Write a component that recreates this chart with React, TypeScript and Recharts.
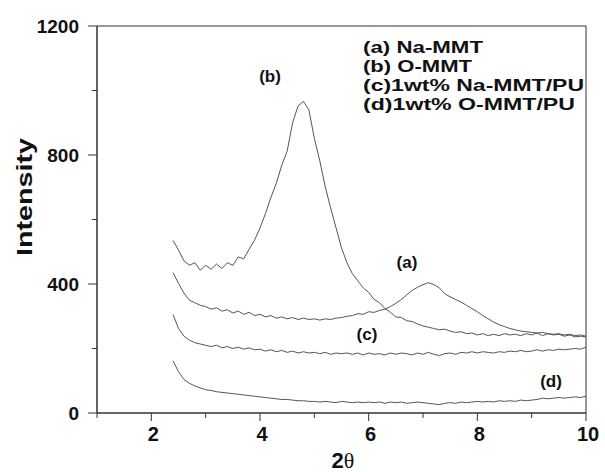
import React from "react";
import { LineChart, Line, XAxis, YAxis, ReferenceArea, Customized } from "recharts";

const twoTheta = [
  2.4, 2.5, 2.6, 2.7, 2.8, 2.9, 3.0, 3.1, 3.2, 3.3, 3.4, 3.5, 3.6, 3.7, 3.8, 3.9,
  4.0, 4.1, 4.2, 4.3, 4.4, 4.5, 4.6, 4.7, 4.8, 4.9, 5.0, 5.1, 5.2, 5.3, 5.4, 5.5,
  5.6, 5.7, 5.8, 5.9, 6.0, 6.1, 6.2, 6.3, 6.4, 6.5, 6.6, 6.7, 6.8, 6.9, 7.0, 7.1,
  7.2, 7.3, 7.4, 7.5, 7.6, 7.7, 7.8, 7.9, 8.0, 8.1, 8.2, 8.3, 8.4, 8.5, 8.6, 8.7,
  8.8, 8.9, 9.0, 9.1, 9.2, 9.3, 9.4, 9.5, 9.6, 9.7, 9.8, 9.9, 10.0,
];

const naMMT = [
  435, 402, 372, 350, 342, 334, 330, 322, 326, 316, 320, 310, 316, 306, 312, 302,
  306, 298, 302, 294, 298, 292, 296, 290, 294, 290, 292, 288, 292, 290, 294, 296,
  300, 302, 308, 306, 314, 312, 318, 322, 330, 340, 352, 366, 380, 390, 398, 404,
  398, 388, 370, 360, 352, 344, 334, 324, 314, 302, 292, 282, 274, 268, 262, 258,
  254, 252, 250, 248, 250, 246, 244, 246, 242, 244, 240, 242, 238,
];

const oMMT = [
  535, 505, 472, 458, 466, 443, 458, 446, 462, 448, 466, 458, 484, 478, 508, 536,
  574, 618, 668, 712, 768, 812, 900, 952, 966, 940, 852, 782, 702, 636, 574, 512,
  466, 432, 410, 388, 374, 352, 342, 324, 312, 298, 296, 286, 284, 276, 270, 266,
  262, 258, 260, 254, 250, 252, 246, 248, 242, 246, 240, 244, 240, 246, 242, 244,
  240, 246, 242, 248, 240, 246, 242, 244, 238, 242, 236, 238, 236,
];

const naMMTPU = [
  305, 262, 238, 226, 218, 214, 210, 206, 210, 202, 206, 200, 204, 198, 202, 196,
  198, 192, 196, 190, 194, 188, 192, 186, 190, 186, 188, 184, 188, 182, 186, 184,
  186, 182, 186, 180, 186, 182, 184, 180, 186, 182, 186, 184, 180, 186, 182, 188,
  182, 178, 184, 186, 182, 188, 186, 190, 186, 190, 188, 186, 190, 188, 192, 190,
  194, 190, 192, 196, 192, 196, 194, 198, 196, 198, 200, 198, 204,
];

const oMMTPU = [
  162, 128, 104, 92, 84, 78, 72, 70, 66, 64, 62, 60, 58, 56, 54, 52,
  50, 48, 46, 44, 42, 42, 40, 38, 38, 36, 36, 34, 36, 34, 32, 36,
  34, 32, 34, 32, 34, 32, 34, 30, 34, 32, 34, 30, 32, 34, 32, 30,
  28, 26, 30, 32, 30, 34, 32, 34, 36, 34, 36, 34, 38, 36, 38, 36,
  40, 38, 40, 42, 46, 44, 46, 48, 46, 48, 50, 48, 52,
];

const xTicks = [1, 2, 3, 4, 5, 6, 7, 8, 9, 10];
const yTicks = [0, 200, 400, 600, 800, 1000, 1200];

const legendLines = [
  "(a) Na-MMT",
  "(b) O-MMT",
  "(c)1wt% Na-MMT/PU",
  "(d)1wt% O-MMT/PU",
];

const data = twoTheta.map((x, i) => ({
  x,
  a: naMMT[i],
  b: oMMT[i],
  c: naMMTPU[i],
  d: oMMTPU[i],
}));

const FONT = "'Liberation Sans', Arial, Helvetica, sans-serif";
const AXIS = "#333";
const LINE = "#555";
const LEGEND_WIDTHS = [120, 109, 221, 212];

const XTick = (props: any) => {
  const { x, y, payload } = props;
  const major = payload.value % 2 === 0;
  return (
    <g>
      <line x1={x} y1={y} x2={x} y2={y + (major ? 8 : 5)} stroke={AXIS} strokeWidth={1} />
      {major && (
        <text x={x + 2} y={y + 28} textAnchor="middle" fontFamily={FONT} fontWeight="bold" fontSize={20} fill="#111">
          {payload.value}
        </text>
      )}
    </g>
  );
};

const YTick = (props: any) => {
  const { x, y, payload } = props;
  const major = payload.value % 400 === 0;
  return (
    <g>
      <line x1={x - (major ? 9 : 5)} y1={y} x2={x} y2={y} stroke={AXIS} strokeWidth={1} />
      {major && (
        <text x={x - 18} y={y + 7} textAnchor="end" fontFamily={FONT} fontWeight="bold" fontSize={19} fill="#111">
          {payload.value}
        </text>
      )}
    </g>
  );
};

const Overlay = () => (
  <g fontFamily={FONT} fill="#111">
    <text
      transform="translate(32,197) rotate(-90)"
      textAnchor="middle"
      fontWeight="bold"
      fontSize={22}
      textLength={118}
      lengthAdjust="spacingAndGlyphs"
    >
      Intensity
    </text>
    <text x={343} y={468} textAnchor="middle" fontSize={22}>
      <tspan fontWeight="bold">2</tspan>
      <tspan fontFamily="'Liberation Serif', serif">θ</tspan>
    </text>
    {legendLines.map((t, i) => (
      <text
        key={t}
        x={363}
        y={53 + i * 19}
        fontWeight="bold"
        fontSize={16.5}
        textLength={LEGEND_WIDTHS[i]}
        lengthAdjust="spacingAndGlyphs"
      >
        {t}
      </text>
    ))}
    <text x={270} y={82} textAnchor="middle" fontWeight="bold" fontSize={17}>(b)</text>
    <text x={407} y={268} textAnchor="middle" fontWeight="bold" fontSize={17}>(a)</text>
    <text x={367} y={340} textAnchor="middle" fontWeight="bold" fontSize={17}>(c)</text>
    <text x={551} y={387} textAnchor="middle" fontWeight="bold" fontSize={17}>(d)</text>
  </g>
);

export default function App() {
  return (
    <div style={{ position: "absolute", left: 0, top: 0, background: "#fff" }}>
      <LineChart width={605} height={472} data={data} margin={{ top: 26, right: 19, bottom: 0, left: 0 }}>
        <XAxis
          dataKey="x"
          type="number"
          domain={[1, 10]}
          ticks={xTicks}
          interval={0}
          height={59}
          tickSize={0}
          tickMargin={0}
          tickLine={false}
          axisLine={{ stroke: AXIS }}
          tick={<XTick />}
          allowDataOverflow
        />
        <YAxis
          type="number"
          domain={[0, 1200]}
          ticks={yTicks}
          interval={0}
          width={97}
          tickSize={0}
          tickMargin={0}
          tickLine={false}
          axisLine={{ stroke: AXIS }}
          tick={<YTick />}
          allowDataOverflow
        />
        <ReferenceArea x1={1} x2={10} y1={0} y2={1200} fill="none" fillOpacity={0} stroke={AXIS} strokeWidth={1} />
        <Line type="linear" dataKey="a" stroke={LINE} strokeWidth={1} dot={false} isAnimationActive={false} />
        <Line type="linear" dataKey="b" stroke={LINE} strokeWidth={1} dot={false} isAnimationActive={false} />
        <Line type="linear" dataKey="c" stroke={LINE} strokeWidth={1} dot={false} isAnimationActive={false} />
        <Line type="linear" dataKey="d" stroke={LINE} strokeWidth={1} dot={false} isAnimationActive={false} />
        <Customized component={<Overlay />} />
      </LineChart>
    </div>
  );
}
